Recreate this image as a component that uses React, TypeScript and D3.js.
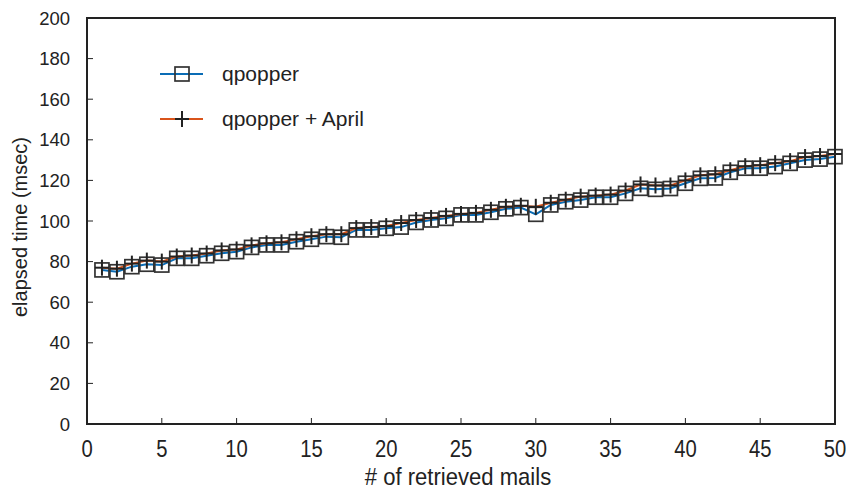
import React from "react";
import * as d3 from "d3";

const mails = d3.range(1, 51);
const qpopper = [
  75.9, 75.0, 77.5, 78.7, 78.3, 81.6, 81.6, 82.9, 84.1, 84.9,
  87.0, 88.2, 88.2, 89.8, 91.0, 92.3, 92.0, 95.6, 95.6, 96.4,
  97.0, 99.3, 100.5, 101.3, 103.0, 103.0, 104.3, 106.0, 106.6, 103.3,
  107.9, 109.5, 110.3, 111.7, 111.7, 113.6, 116.1, 115.6, 116.0, 118.6,
  121.0, 121.2, 124.0, 126.0, 126.0, 126.8, 128.4, 130.0, 130.5, 131.7,
];
const april = [
  77.0, 76.5, 79.0, 80.5, 80.0, 82.5, 83.0, 84.0, 85.5, 86.0,
  88.0, 89.0, 89.5, 91.0, 92.5, 93.5, 93.5, 96.5, 97.0, 97.5,
  99.0, 100.5, 101.5, 102.5, 103.5, 104.0, 105.5, 107.0, 107.5, 107.0,
  109.0, 110.5, 112.0, 112.5, 113.0, 115.0, 118.0, 117.5, 117.5, 120.0,
  122.5, 123.0, 125.0, 127.0, 127.5, 128.5, 129.5, 131.5, 132.0, 133.0,
];
const xTicks = [0, 5, 10, 15, 20, 25, 30, 35, 40, 45, 50];
const yTicks = [0, 20, 40, 60, 80, 100, 120, 140, 160, 180, 200];
const seriesNames = ["qpopper", "qpopper + April"];

const W = 846, H = 489;
const left = 87, right = 835, top = 18, bottom = 424;
const BLUE = "#0a6cb5";
const ORANGE = "#d9541b";
const sans = "'Liberation Sans', Arial, sans-serif";

export default function App() {
  const x = d3.scaleLinear().domain([0, 50]).range([left, right]);
  const y = d3.scaleLinear().domain([0, 200]).range([bottom, top]);
  const line = d3.line<number>().x((_, i) => x(mails[i])).y((d) => y(d));

  const square = (cx: number, cy: number, key: string | number) => (
    <rect key={key} x={cx - 7} y={cy - 7} width={14} height={14}
      fill="none" stroke="#333" strokeWidth={1.7} />
  );
  const plus = (cx: number, cy: number, key: string | number) => (
    <g key={key} stroke="#222" strokeWidth={2}>
      <line x1={cx - 7} x2={cx + 7} y1={cy} y2={cy} />
      <line x1={cx} x2={cx} y1={cy - 8} y2={cy + 8} />
    </g>
  );

  return (
    <svg width={W} height={H} style={{ position: "absolute", left: 0, top: 0, background: "#fff" }}>
      <path d={line(qpopper) || ""} fill="none" stroke={BLUE} strokeWidth={2} />
      <path d={line(april) || ""} fill="none" stroke={ORANGE} strokeWidth={2} />
      {qpopper.map((v, i) => square(x(mails[i]), y(v), "s" + i))}
      {april.map((v, i) => plus(x(mails[i]), y(v), "p" + i))}

      <rect x={left} y={top} width={right - left} height={bottom - top} fill="none" stroke="#222" strokeWidth={2} />
      {yTicks.map((t) => (
        <g key={"y" + t}>
          <line x1={left} x2={left + 6} y1={y(t)} y2={y(t)} stroke="#222" strokeWidth={1} />
          <text x={70} y={y(t)} dy="0.36em" textAnchor="end" fontSize={18.5} fontFamily={sans} fill="#222">{t}</text>
        </g>
      ))}
      {xTicks.map((t) => (
        <g key={"x" + t}>
          <line x1={x(t)} x2={x(t)} y1={bottom} y2={bottom - 6} stroke="#222" strokeWidth={1} />
          <text transform={`translate(${x(t)},457) scale(0.88,1)`} textAnchor="middle" fontSize={23} fontFamily={sans} fill="#222">{t}</text>
        </g>
      ))}
      <text transform={`translate(458,485) scale(0.92,1)`} textAnchor="middle" fontSize={24} fontFamily={sans} fill="#222"># of retrieved mails</text>
      <text transform={`translate(27,${(top + bottom) / 2 + 6}) rotate(-90)`} textAnchor="middle" fontSize={20} fontFamily={sans} fill="#222">elapsed time (msec)</text>

      <line x1={160} x2={203} y1={74} y2={74} stroke={BLUE} strokeWidth={2} />
      {square(182, 74, "ls")}
      <text x={222} y={81} fontSize={21} fontFamily={sans} fill="#222">{seriesNames[0]}</text>
      <line x1={160} x2={203} y1={119} y2={119} stroke={ORANGE} strokeWidth={2} />
      {plus(182, 119, "lp")}
      <text x={222} y={126} fontSize={21} fontFamily={sans} fill="#222">{seriesNames[1]}</text>
    </svg>
  );
}
